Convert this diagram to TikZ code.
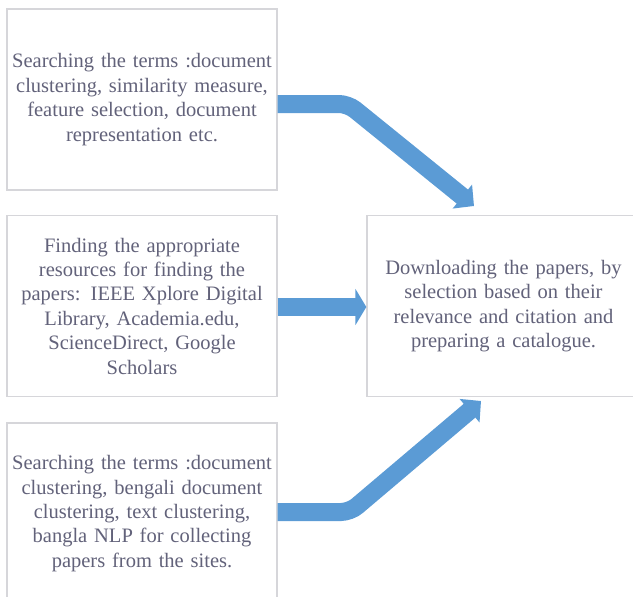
\documentclass[tikz,border=0pt]{standalone}
\usepackage{fontspec}
\setmainfont{Liberation Serif}
\usetikzlibrary{arrows.meta}
\definecolor{txtcol}{RGB}{98,98,122}
\definecolor{boxcol}{RGB}{214,214,218}
\definecolor{arrcol}{RGB}{91,155,213}
\tikzset{
  stepbox/.style={draw=boxcol, line width=1.3pt, fill=white, minimum width=270pt, minimum height=181pt,
    text width=262pt, align=center, text=txtcol, inner sep=0pt,
    font=\fontsize{20.5}{24.4}\selectfont},
  flowarrow/.style={draw=arrcol, line width=18pt, rounded corners=9pt},
}
\begin{document}
\begin{tikzpicture}[x=1pt,y=-1pt]
\useasboundingbox (0,0) rectangle (633,597);
\node[stepbox] (b1) at (142,99.5) {Searching the terms :document\\clustering, similarity measure,\\feature selection, document\\representation etc.};
\node[stepbox] (b2) at (142,306) {Finding the appropriate\\resources for finding the\\papers: IEEE Xplore Digital\\Library, Academia.edu,\\ScienceDirect, Google\\Scholars};
\node[stepbox] (b3) at (142,513.5) {Searching the terms :document\\clustering, bengali document\\clustering, text clustering,\\bangla NLP for collecting\\papers from the sites.};
\node[stepbox, minimum width=273pt] (b4) at (503.5,306) {Downloading the papers, by\\selection based on their\\relevance and citation and\\preparing a catalogue.};
\coordinate (a1s) at (277,104);
\coordinate (a1b) at (348,104);
\coordinate (a1e) at (474,206);
\coordinate (a2s) at (277,307);
\coordinate (a3s) at (277,512);
\coordinate (a3b) at (350,512);
\coordinate (a3e) at (481,401);
\draw[flowarrow, -{Triangle[width=30pt,length=15pt]}] (b1.east |- a1s) -- (a1b) -- (a1e);
\draw[flowarrow, -{Triangle[width=36pt,length=11pt]}] (b2.east |- a2s) -- (b4.west |- a2s);
\draw[flowarrow, -{Triangle[width=30pt,length=15pt]}] (b3.east |- a3s) -- (a3b) -- (a3e);
\end{tikzpicture}
\end{document}
